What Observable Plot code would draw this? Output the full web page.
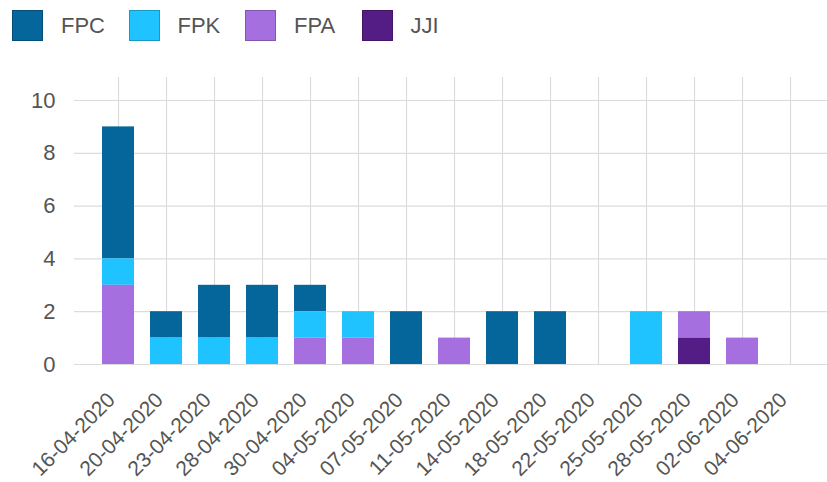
<!DOCTYPE html>
<html>
<head>
<meta charset="utf-8">
<script src="https://cdn.jsdelivr.net/npm/d3@7"></script>
<script src="https://cdn.jsdelivr.net/npm/@observablehq/plot@0.6"></script>
<style>
  html, body { margin: 0; padding: 0; background: #fff; }
  body { width: 827px; height: 482px; overflow: hidden; font-family: "Liberation Sans", Arial, sans-serif; }
  #legend { height: 50px; box-sizing: border-box; padding-top: 10px; padding-left: 12px; display: flex; }
  .item { width: 116.5px; display: flex; align-items: center; height: 31px; }
  .sw { width: 31px; height: 31px; box-sizing: border-box; border: 1px solid rgba(0,0,0,0.22); margin-right: 18px; }
  .lab { font-size: 22px; color: #555; }
  svg { display: block; }
</style>
</head>
<body>
<div id="legend"></div>
<div id="chart"></div>
<script>
const dates = ["16-04-2020","20-04-2020","23-04-2020","28-04-2020","30-04-2020","04-05-2020","07-05-2020","11-05-2020","14-05-2020","18-05-2020","22-05-2020","25-05-2020","28-05-2020","02-06-2020","04-06-2020"];
const FPC = [5,1,2,2,1,0,2,0,2,2,0,0,0,0,0];
const FPK = [1,1,1,1,1,1,0,0,0,0,0,2,0,0,0];
const FPA = [3,0,0,0,1,1,0,1,0,0,0,0,1,1,0];
const JJI = [0,0,0,0,0,0,0,0,0,0,0,0,1,0,0];
const seriesNames = ["FPC","FPK","FPA","JJI"];
const seriesColors = ["#05669b","#1ec3ff","#a66fdf","#541d86"];
const yTicks = [0,2,4,6,8,10];

const seriesValues = {FPC, FPK, FPA, JJI};
const rows = [];
for (const s of seriesNames) {
  dates.forEach((d, i) => rows.push({date: d, series: s, value: seriesValues[s][i]}));
}

// legend
const legend = document.getElementById("legend");
seriesNames.forEach((s, i) => {
  const it = document.createElement("div"); it.className = "item";
  const sw = document.createElement("div"); sw.className = "sw"; sw.style.background = seriesColors[i];
  const lb = document.createElement("span"); lb.className = "lab"; lb.textContent = s;
  it.appendChild(sw); it.appendChild(lb); legend.appendChild(it);
});

const chart = Plot.plot({
  width: 827,
  height: 432,
  marginLeft: 74,
  marginRight: 0,
  marginTop: 27,
  marginBottom: 118,
  style: {fontFamily: "Liberation Sans, Arial, sans-serif", background: "#fff"},
  x: {domain: dates, range: [94, 814], paddingInner: 1/3, paddingOuter: 1/6, axis: null},
  y: {domain: [0, 10], range: [314, 50], axis: null},
  color: {domain: seriesNames, range: seriesColors},
  marks: [
    Plot.ruleX(dates, {x: d => d, stroke: "#dcdcdc", strokeWidth: 1.2}),
    Plot.ruleY(yTicks, {y: d => d, stroke: "#dcdcdc", strokeWidth: 1.2}),
    Plot.barY(rows, Plot.stackY({
      x: "date", y: "value", fill: "series",
      order: ["JJI","FPA","FPK","FPC"]
    })),
    Plot.text(yTicks, {y: d => d, frameAnchor: "left", dx: -19, text: d => String(d), textAnchor: "end", fontSize: 22, fill: "#555"}),
    Plot.text(dates, {x: d => d, y: d => 0, text: d => d, rotate: -45, textAnchor: "end", dx: -7, dy: 32, fontSize: 21, fill: "#555"})
  ]
});
document.getElementById("chart").appendChild(chart);
</script>
</body>
</html>
